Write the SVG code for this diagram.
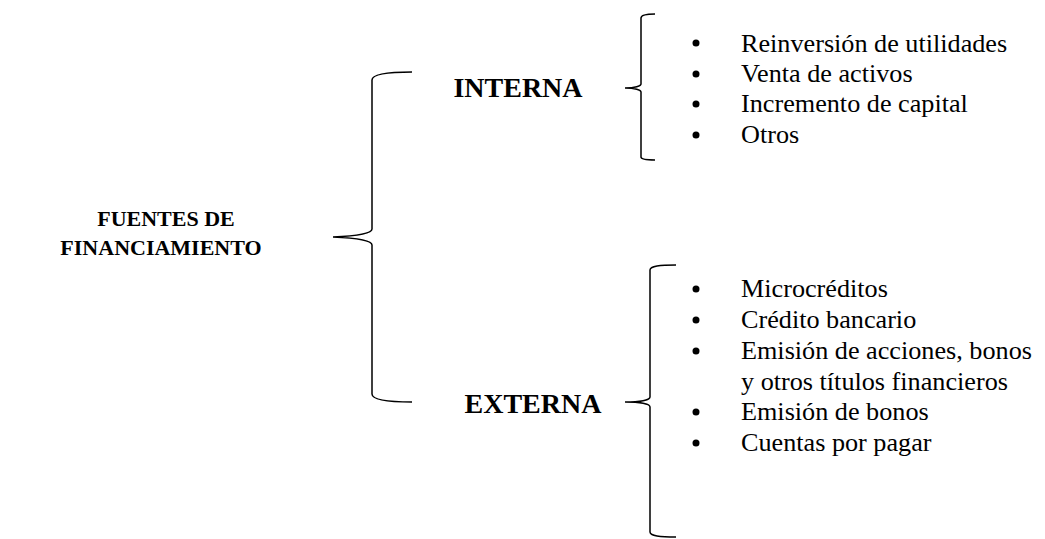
<svg xmlns="http://www.w3.org/2000/svg" width="1045" height="539" viewBox="0 0 1045 539">
<style>
.b{font-family:"Liberation Serif","Times New Roman",serif;font-weight:bold;fill:#000}
.r{font-size:22px}
.h{font-size:28px}
.t{font-family:"Liberation Serif","Times New Roman",serif;font-size:26.2px;fill:#000}
.br{fill:none;stroke:#000;stroke-width:1.5}
.dot{fill:#000}
</style>
<rect width="1045" height="539" fill="#fff"/>
<g id="connectors">
<path class="br" d="M412,72 C390,72 372,74 372,80 L372,229 C372,234 355,236 333,237 C355,238 372,240 372,245 L372,394 C372,400 390,402 412,402"/>
<path class="br" d="M655,14 C646,14 641,15 641,18 L641,84 C641,86 635,88 625,88 C635,88 641,90 641,92 L641,157 C641,159 646,160 655,160"/>
<path class="br" d="M676,265 C660,265 650,266 650,270 L650,397 C650,400 640,402 625,402 C640,402 650,404 650,407 L650,532 C650,536 660,537 676,537"/>
</g>
<g id="root">
<text class="b r" x="166" y="226" text-anchor="middle">FUENTES DE</text>
<text class="b r" x="161" y="255" text-anchor="middle">FINANCIAMIENTO</text>
</g>
<g id="interna">
<text class="b h" x="518" y="97" text-anchor="middle">INTERNA</text>
</g>
<g id="externa">
<text class="b h" x="533" y="413" text-anchor="middle">EXTERNA</text>
</g>
<g id="interna-list">
<circle class="dot" cx="696" cy="43" r="3.5"/>
<circle class="dot" cx="696" cy="74" r="3.5"/>
<circle class="dot" cx="696" cy="104" r="3.5"/>
<circle class="dot" cx="696" cy="135" r="3.5"/>
<text class="t" x="741" y="52">Reinversión de utilidades</text>
<text class="t" x="741" y="82">Venta de activos</text>
<text class="t" x="741" y="112">Incremento de capital</text>
<text class="t" x="741" y="143">Otros</text>
</g>
<g id="externa-list">
<circle class="dot" cx="696" cy="289" r="3.5"/>
<circle class="dot" cx="696" cy="320" r="3.5"/>
<circle class="dot" cx="696" cy="351" r="3.5"/>
<circle class="dot" cx="696" cy="412" r="3.5"/>
<circle class="dot" cx="696" cy="443" r="3.5"/>
<text class="t" x="741" y="297">Microcréditos</text>
<text class="t" x="741" y="328">Crédito bancario</text>
<text class="t" x="741" y="359">Emisión de acciones, bonos</text>
<text class="t" x="741" y="390">y otros títulos financieros</text>
<text class="t" x="741" y="420">Emisión de bonos</text>
<text class="t" x="741" y="451">Cuentas por pagar</text>
</g>
</svg>
